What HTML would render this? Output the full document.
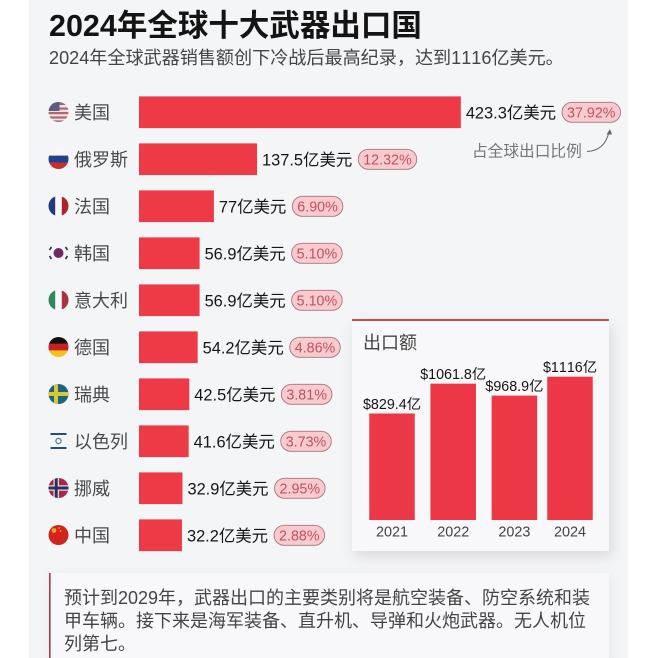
<!DOCTYPE html>
<html lang="zh">
<head>
<meta charset="utf-8">
<title>2024年全球十大武器出口国</title>
<style>
html,body{margin:0;padding:0;background:#fff;width:660px;height:658px;overflow:hidden}
svg{display:block;filter:blur(.35px)}
text{font-family:"Liberation Sans","Noto Sans CJK SC",sans-serif;font-kerning:none}
</style>
</head>
<body>
<svg id="root" width="660" height="658" viewBox="0 0 660 658" xmlns="http://www.w3.org/2000/svg">
<defs>
<filter id="soft" x="-10%" y="-10%" width="120%" height="120%"><feGaussianBlur stdDeviation="6"/></filter>
<clipPath id="flagClip"><circle cx="0" cy="0" r="10"/></clipPath>
</defs>
<rect x="29" y="0" width="599" height="658" fill="#f4f5f7"/>
<text x="49" y="36" font-size="30.5" font-weight="700" fill="#141414">2024年全球十大武器出口国</text>
<text x="49" y="64" font-size="18.1" fill="#444">2024年全球武器销售额创下冷战后最高纪录，达到1116亿美元。</text>

<g transform="translate(58.5,112)" clip-path="url(#flagClip)">
<rect x="-10" y="-10" width="20" height="20" fill="#e9e4e8"/>
<rect x="-10" y="-10" width="20" height="3" fill="#8f6a7c"/><rect x="-10" y="-4.5" width="20" height="2.2" fill="#b5656f"/><rect x="-10" y="0" width="20" height="2.2" fill="#b5656f"/><rect x="-10" y="4.4" width="20" height="2.2" fill="#b5656f"/><rect x="-10" y="8.4" width="20" height="1.6" fill="#b5656f"/>
<rect x="-10" y="-10" width="11" height="9" fill="#5d5b7f"/>
</g>
<g transform="translate(58.5,159)" clip-path="url(#flagClip)">
<rect x="-10" y="-10" width="20" height="7" fill="#f7f7f9"/><rect x="-10" y="-3.4" width="20" height="7" fill="#23408f"/><rect x="-10" y="3.4" width="20" height="7" fill="#c43030"/>
</g>
<g transform="translate(58.5,206)" clip-path="url(#flagClip)">
<rect x="-10" y="-10" width="7" height="20" fill="#1f3b80"/><rect x="-3.3" y="-10" width="6.6" height="20" fill="#f7f7f9"/><rect x="3.3" y="-10" width="7" height="20" fill="#a8242f"/>
</g>
<g transform="translate(58.5,253)">
<circle r="5" fill="#6e2b5f"/>
<path d="M-9,-3 L-7,-6 M-9,3 L-7,6 M9,-3 L7,-6 M9,3 L7,6" stroke="#333" stroke-width="1.6" fill="none"/>
</g>
<g transform="translate(58.5,300)" clip-path="url(#flagClip)">
<rect x="-10" y="-10" width="7" height="20" fill="#2c8a5c"/><rect x="-3.3" y="-10" width="6.6" height="20" fill="#f7f7f9"/><rect x="3.3" y="-10" width="7" height="20" fill="#a8333d"/>
</g>
<g transform="translate(58.5,347)" clip-path="url(#flagClip)">
<rect x="-10" y="-10" width="20" height="7" fill="#111"/><rect x="-10" y="-3.4" width="20" height="7" fill="#c8202a"/><rect x="-10" y="3.4" width="20" height="7" fill="#f5c21c"/>
</g>
<g transform="translate(58.5,394)" clip-path="url(#flagClip)">
<rect x="-10" y="-10" width="20" height="20" fill="#1c6484"/><rect x="-4.5" y="-10" width="4" height="20" fill="#d9c832"/><rect x="-10" y="-2" width="20" height="4" fill="#d9c832"/>
</g>
<g transform="translate(58.5,441)">
<rect x="-8" y="-8" width="16" height="2" fill="#1f4f7f"/><rect x="-8" y="6" width="16" height="2" fill="#1f4f7f"/>
<circle r="2.6" fill="none" stroke="#4a7aa0" stroke-width="1.2"/>
</g>
<g transform="translate(58.5,488)" clip-path="url(#flagClip)">
<rect x="-10" y="-10" width="20" height="20" fill="#a52a45"/><rect x="-5" y="-10" width="5.4" height="20" fill="#e8e8ee"/><rect x="-10" y="-2.7" width="20" height="5.4" fill="#e8e8ee"/><rect x="-3.8" y="-10" width="3" height="20" fill="#27305f"/><rect x="-10" y="-1.5" width="20" height="3" fill="#27305f"/>
</g>
<g transform="translate(58.5,535)" clip-path="url(#flagClip)">
<rect x="-10" y="-10" width="20" height="20" fill="#d2231c"/>
<circle cx="-4.5" cy="-4.5" r="2.4" fill="#eda02a"/><circle cx="0.5" cy="-7" r="0.9" fill="#eda02a"/><circle cx="2" cy="-4" r="0.9" fill="#eda02a"/>
</g>

<g id="rows"></g>

<text x="472" y="156.5" font-size="15.7" fill="#777">占全球出口比例</text>
<path d="M587,151.5 C598,151 606,145 609,132" fill="none" stroke="#666" stroke-width="1"/>
<path d="M610,129 L606.5,134.5 L612,134.5 Z" fill="#666"/>

<rect x="354" y="325" width="258" height="232" fill="#aaa" opacity=".35" filter="url(#soft)"/>
<rect x="352" y="319" width="257" height="232" fill="#f8f8fa"/>
<rect x="352" y="319" width="257" height="2" fill="#c9504f"/>
<text x="363" y="349" font-size="18" fill="#444">出口额</text>
<g id="years"></g>

<rect x="52" y="576" width="558" height="90" fill="#bbb" opacity=".25" filter="url(#soft)"/>
<rect x="49" y="573" width="560" height="85" fill="#f8f8fa"/>
<rect x="49" y="573" width="1.6" height="85" fill="#a83a46"/>
<g font-size="18" fill="#444">
<text x="64" y="604">预计到2029年，武器出口的主要类别将是航空装备、防空系统和装</text>
<text x="64" y="627">甲车辆。接下来是海军装备、直升机、导弹和火炮武器。无人机位</text>
<text x="64" y="650">列第七。</text>
</g>
</svg>
<script>
const countries = ['美国','俄罗斯','法国','韩国','意大利','德国','瑞典','以色列','挪威','中国'];
const exportValues = [423.3,137.5,77,56.9,56.9,54.2,42.5,41.6,32.9,32.2];
const exportShares = [37.92,12.32,6.90,5.10,5.10,4.86,3.81,3.73,2.95,2.88];
const years = ['2021','2022','2023','2024'];
const yearTotals = [829.4,1061.8,968.9,1116];

const NS = 'http://www.w3.org/2000/svg';
function mk(tag, parent, attrs, txt) {
  const el = document.createElementNS(NS, tag);
  for (const k in attrs) el.setAttribute(k, attrs[k]);
  if (txt !== undefined) el.textContent = txt;
  parent.appendChild(el);
  return el;
}

/* country bars: the source uses a linear axis with a fixed base length */
const barLeft = 139;
function barWidth(v) { return 20 + 0.713 * v; }
function rowTop(i) { return 96.4 + 47 * i; }

const rows = document.getElementById('rows');
countries.forEach(function (name, i) {
  const top = rowTop(i);
  const mid = top + 15.9;
  const w = barWidth(exportValues[i]);

  const label = mk('text', rows, {x: 74, y: mid + 6.6, 'font-size': 18, fill: '#4a4a4a'}, name);
  
  

  const bar = mk('rect', rows, {x: barLeft, y: top, width: w, height: 31.7, fill: '#ee3a47'});
  
  

  const valueX = barLeft + w + 5;
  const value = mk('text', rows, {x: valueX, y: mid + 6.2, 'font-size': 16.4, fill: '#151515'}, exportValues[i] + '亿美元');
  
  

  const pillX = valueX + value.getComputedTextLength() + 6;
  const pill = mk('rect', rows, {x: pillX, y: mid - 10, rx: 10, ry: 10, height: 20, width: 50, fill: '#f9cbce', stroke: '#a8757a', 'stroke-width': 0.9});
  
  

  const share = mk('text', rows, {x: pillX + 5, y: mid + 5.1, 'font-size': 14.3, fill: '#c2505e'}, exportShares[i].toFixed(2) + '%');
  
  
  pill.setAttribute('width', share.getComputedTextLength() + 10);
});

/* yearly export bars */
const yearBase = 520;
const yearBarWidth = 45.5;
function yearHeight(v) { return v * 0.1284; }
function yearCenter(i) { return 392 + 61.2 * i - (i === 3 ? 5.6 : 0); }

const yearsGroup = document.getElementById('years');
years.forEach(function (year, i) {
  const h = yearHeight(yearTotals[i]);
  const cx = yearCenter(i);

  const bar = mk('rect', yearsGroup, {x: cx - yearBarWidth / 2, y: yearBase - h, width: yearBarWidth, height: h, fill: '#ec3846'});
  
  

  const value = mk('text', yearsGroup, {x: cx, y: yearBase - h - 4.6, 'font-size': 14.3, fill: '#151515', 'text-anchor': 'middle'}, '$' + yearTotals[i] + '亿');
  
  

  const tick = mk('text', yearsGroup, {x: cx, y: 536.5, 'font-size': 14.4, fill: '#444', 'text-anchor': 'middle'}, year);
  
  
});
</script>
</body>
</html>
